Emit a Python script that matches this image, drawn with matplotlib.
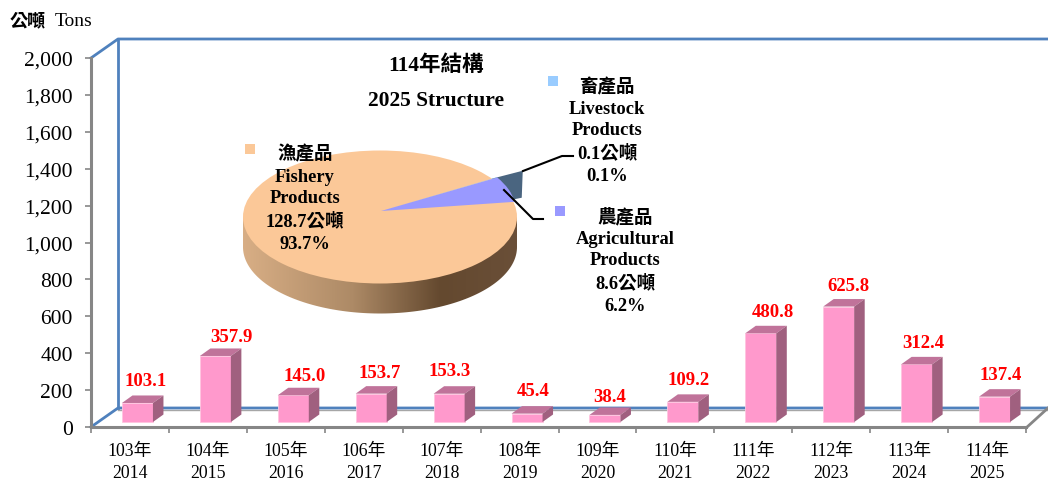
import numpy as np
import matplotlib
matplotlib.use('Agg')
import matplotlib.pyplot as plt
from matplotlib.colors import LinearSegmentedColormap
from matplotlib.patches import Ellipse, Polygon, Rectangle

plt.rcParams['font.family'] = ['Liberation Serif', 'Noto Sans CJK TC', 'DejaVu Sans']

# Chart data
roc_years = ['103年', '104年', '105年', '106年', '107年', '108年', '109年', '110年', '111年', '112年', '113年', '114年']
years = ['2014', '2015', '2016', '2017', '2018', '2019', '2020', '2021', '2022', '2023', '2024', '2025']
tons = [103.1, 357.9, 145.0, 153.7, 153.3, 45.4, 38.4, 109.2, 480.8, 625.8, 312.4, 137.4]
y_ticks = [0, 200, 400, 600, 800, 1000, 1200, 1400, 1600, 1800, 2000]

pie_names = ['農產品', '畜產品', '漁產品']
pie_values = [8.6, 0.1, 128.7]

# Nudges of the value labels, in pixels
label_dx = [8, 16, 11, 8, 0, 6, 5, 6, 12, 10, 7, 6]
label_dy = [22, 19, 20, 21, 23, 23, 18, 22, 22, 21, 22, 22]

# Colours
GRAY = '#868686'
BLUE = '#4F81BD'
PINK = '#FF99CC'
PINK_TOP = '#C0739A'
PINK_SIDE = '#A0607F'
PEACH = '#FBC898'
AGRI = '#9999FF'
LIVE = '#99CCFF'
LIVE_SIDE = '#4A6580'

W, H = 1048, 481
fig = plt.figure(figsize=(W / 100, H / 100), dpi=100, facecolor='white')


def box(x0, y0, x1, y1):
    # pixel box (y from top) to figure fractions
    return [x0 / W, 1 - y1 / H, (x1 - x0) / W, (y1 - y0) / H]


def pixel_axes(zorder):
    a = fig.add_axes([0, 0, 1, 1], zorder=zorder)
    a.set_xlim(0, W)
    a.set_ylim(H, 0)
    a.axis('off')
    return a


# Back walls
bg = pixel_axes(0)
bg.plot([118, 1048], [410.5, 410.5], color='#A6A6A6', lw=1)
bg.plot([91, 118, 1048], [59, 40, 40], color=BLUE, lw=2)
bg.plot([118, 118], [40, 409], color=BLUE, lw=2)
bg.plot([91, 118, 1048], [428, 409, 409], color=BLUE, lw=2)
bg.plot([1026, 1048], [429, 409], color=GRAY, lw=2)

# Bar chart
ax = fig.add_axes(box(91, 59, 1026, 428), zorder=1)
ax.patch.set_alpha(0)
ax.set_xlim(0, 12)
ax.set_ylim(0, 2000)
for s in ['top', 'right']:
    ax.spines[s].set_visible(False)
for s in ['left', 'bottom']:
    ax.spines[s].set_color(GRAY)
    ax.spines[s].set_linewidth(2.2)

ax.set_yticks(y_ticks)
ax.set_yticklabels([f'{v:,}' for v in y_ticks], fontsize=15.5)
ax.tick_params(axis='y', length=4, width=1.2, color=GRAY, pad=9)
ax.set_xticks(range(13))
ax.set_xticklabels([])
ax.tick_params(axis='x', which='major', length=4, width=1.2, color=GRAY)
ax.set_xticks(np.arange(12) + 0.5, minor=True)
ax.set_xticklabels([f'{a}\n{b}' for a, b in zip(roc_years, years)], minor=True, fontsize=12.8, linespacing=1.4)
ax.tick_params(axis='x', which='minor', length=0, pad=10.5)

px_x = 12 / 935
px_y = 2000 / 369
base = 5 * px_y
half = 15.5 * px_x
dep_x = 10.5 * px_x
dep_y = 7.5 * px_y

centers = np.arange(12) + 0.5 + 7.5 * px_x
ax.bar(centers, tons, width=2 * half, bottom=base, color=PINK, edgecolor='#FFC4E0', linewidth=0.6, zorder=3, clip_on=False)
for c, v, dx, dy in zip(centers, tons, label_dx, label_dy):
    top = base + v
    ax.add_patch(Polygon([(c - half, top), (c + half, top), (c + half + dep_x, top + dep_y), (c - half + dep_x, top + dep_y)],
                         facecolor=PINK_TOP, edgecolor='none', zorder=3, clip_on=False))
    ax.add_patch(Polygon([(c + half, base), (c + half + dep_x, base + dep_y), (c + half + dep_x, top + dep_y), (c + half, top)],
                         facecolor=PINK_SIDE, edgecolor='none', zorder=3, clip_on=False))
    ax.annotate(f'{v:.1f}', (c, top), xytext=(dx, dy), textcoords='offset pixels', ha='center', va='center',
                color='red', fontsize=13.5, fontweight='bold', zorder=4)

# Pie: unit circle squashed onto the box around the apex at (381, 212)
rx, ry = 135, 66
pie_ax = fig.add_axes(box(381 - 1.3 * rx, 212 - 1.3 * ry, 381 + 1.3 * rx, 212 + 1.7 * ry), zorder=2)
wedges, _ = pie_ax.pie(pie_values, colors=[AGRI, LIVE, PEACH], startangle=8, counterclock=True, radius=1)
pie_ax.set_aspect('auto')

u_x = 1 / rx
u_y = 1 / ry
cx, cy = -1 * u_x, -6 * u_y     # centre of the top face
ex, ey = 137 * u_x, 66.5 * u_y  # radii of the top face
thick = 30 * u_y

# Side of the cake with gradient
t = np.linspace(0, np.pi, 120)
side = np.column_stack([cx + ex * np.cos(t), cy - thick - ey * np.sin(t)])
side = np.vstack([[cx + ex, cy], side, [cx - ex, cy]])
side_patch = Polygon(side, transform=pie_ax.transData, facecolor='none', edgecolor='none')
pie_ax.add_patch(side_patch)
grad_cmap = LinearSegmentedColormap.from_list('side', [(0, '#D8AE85'), (0.4, '#AD8A66'), (0.72, '#64492F'), (1, '#6A4F38')])
im = pie_ax.imshow(np.linspace(0, 1, 256).reshape(1, -1), cmap=grad_cmap, aspect='auto',
                   extent=[cx - ex, cx + ex, cy - thick - ey, cy + ey], zorder=1)
im.set_clip_path(side_patch)

# Cut face of the small pulled out slice
a0 = np.deg2rad(8 + 360 * (pie_values[0] + pie_values[1]) / sum(pie_values))
rim_x, rim_y = np.cos(a0) * 0.955, np.sin(a0) * 0.955
pie_ax.add_patch(Polygon([(rim_x, rim_y), (rim_x + 31 * u_x, rim_y + 8 * u_y), (rim_x + 30 * u_x, rim_y - 19 * u_y),
                          (rim_x + 20 * u_x, rim_y - 21 * u_y)],
                         facecolor=LIVE_SIDE, edgecolor='none', zorder=2))

top_face = Ellipse((cx, cy), 2 * ex, 2 * ey, facecolor=PEACH, edgecolor='none', zorder=3)
pie_ax.add_patch(top_face)
wedges[2].set_visible(False)
for w in wedges[:2]:
    w.set_zorder(4)
    w.set_clip_path(top_face)
pie_ax.set_xlim(-1.3, 1.3)
pie_ax.set_ylim(-1.7, 1.3)
pie_ax.axis('off')

# Overlay with titles, pie labels and leader lines
top = pixel_axes(5)
top.plot([523, 562, 573], [172, 157, 157], color='black', lw=1.5)
top.plot([504, 533, 543], [191, 220, 220], color='black', lw=1.5)
top.add_patch(Rectangle((245, 145), 10, 10, color=PEACH, lw=0))
top.add_patch(Rectangle((548, 77), 10, 10, color=LIVE, lw=0))
top.add_patch(Rectangle((555, 207), 10, 10, color=AGRI, lw=0))


def bold(x, y, s, size=13.3):
    top.text(x, y + 2, s, ha='center', va='center', fontsize=size, fontweight='bold', color='black')


top.text(28, 22, '公噸', ha='center', va='center', fontsize=13, fontweight='bold')
top.text(74, 22, 'Tons', ha='center', va='center', fontsize=14)
bold(436, 64, '114年結構', 15.5)
bold(436, 99, '2025 Structure', 15.5)

fish_lines = [pie_names[2], 'Fishery', 'Products', f'{pie_values[2]}公噸', '93.7%']
live_lines = [pie_names[1], 'Livestock', 'Products', f'{pie_values[1]}公噸', '0.1%']
agri_lines = [pie_names[0], 'Agricultural', 'Products', f'{pie_values[0]}公噸', '6.2%']
for s, y in zip(fish_lines, [152, 176, 197, 219, 243]):
    bold(305, y, s)
for s, y in zip(live_lines, [85, 108, 129, 151, 175]):
    bold(607, y, s)
for s, y in zip(agri_lines, [215, 238, 259, 281, 305]):
    bold(625, y, s)

fig.savefig('out.png', dpi=100)
